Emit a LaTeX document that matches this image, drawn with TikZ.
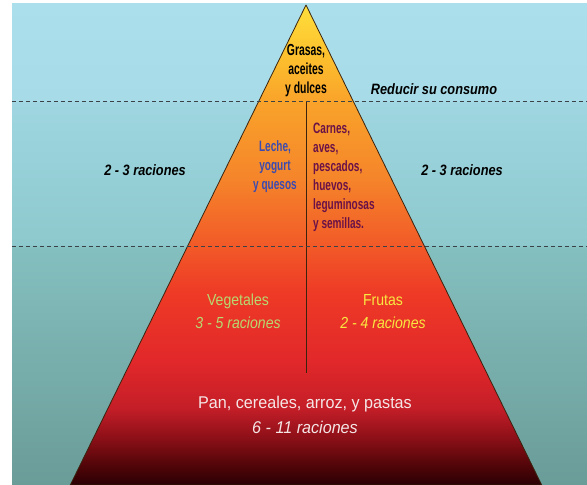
\documentclass[tikz,border=0pt]{standalone}
\usepackage{fontspec}
\setmainfont{Liberation Sans}
\newfontfamily\nA{Liberation Sans}[FakeStretch=0.65]
\newfontfamily\nB{Liberation Sans}[FakeStretch=0.67]
\newfontfamily\nC{Liberation Sans}[FakeStretch=0.88]
\newfontfamily\nE{Liberation Sans}[FakeStretch=0.85]
\newfontfamily\nD{Liberation Sans}[FakeStretch=0.95]
\definecolor{p1}{HTML}{2A0003}
\definecolor{p2}{HTML}{500508}
\definecolor{p3}{HTML}{8E1018}
\definecolor{p4}{HTML}{C41E28}
\definecolor{p5}{HTML}{E2282A}
\definecolor{p6}{HTML}{EE3A26}
\definecolor{p7}{HTML}{F25A28}
\definecolor{p8}{HTML}{F5852A}
\definecolor{p9}{HTML}{F9A32A}
\definecolor{p10}{HTML}{FDC22E}
\definecolor{p11}{HTML}{FFDF3C}
\definecolor{b1}{HTML}{6A9C98}
\definecolor{b2}{HTML}{84BFBF}
\definecolor{b3}{HTML}{8DC9CD}
\definecolor{b4}{HTML}{9FD6E1}
\definecolor{b5}{HTML}{A6DBE7}
\definecolor{b6}{HTML}{ABDFEB}
\definecolor{leche}{HTML}{3C4BB0}
\definecolor{carne}{HTML}{6A1248}
\definecolor{vege}{HTML}{B8D870}
\definecolor{fruta}{HTML}{F8E840}
\definecolor{pan}{HTML}{F5E6E6}
\definecolor{dash}{HTML}{3A4248}
\definecolor{edge}{HTML}{3A2410}
\pgfdeclareverticalshading{pyrshade}{100bp}{color(0bp)=(p1); color(25bp)=(p1); color(27bp)=(p2); color(30bp)=(p3); color(33bp)=(p4); color(38bp)=(p5); color(45bp)=(p6); color(50bp)=(p7); color(57bp)=(p8); color(65bp)=(p9); color(70bp)=(p10); color(75bp)=(p11); color(100bp)=(p11)}
\pgfdeclareverticalshading{bgshade}{100bp}{color(0bp)=(b1); color(25bp)=(b1); color(49.6bp)=(b2); color(50.05bp)=(b3); color(64.7bp)=(b4); color(65bp)=(b5); color(75bp)=(b6); color(100bp)=(b6)}
\tikzset{
  dashline/.style={draw=dash, line width=0.9pt, dash pattern=on 4pt off 3pt},
  narrowbold/.style={font={\nA\bfseries\fontsize{16}{19}\selectfont}, text=black, align=center, inner sep=0pt},
  narrowtxt/.style={font={\nB\bfseries\fontsize{15}{19}\selectfont}, inner sep=0pt},
  midtxt/.style={font={\nC\fontsize{16}{23}\selectfont}, align=center, inner sep=0pt},
  sidetxt/.style={font={\nE\bfseries\itshape\fontsize{15}{18}\selectfont}, text=black, inner sep=0pt},
  pantxt/.style={font={\nD\fontsize{17}{25}\selectfont}, text=pan, align=center, inner sep=0pt}
}
\begin{document}
\begin{tikzpicture}[x=1pt,y=1pt]
\useasboundingbox (0,0) rectangle (587,485);
\fill[white] (0,0) rectangle (587,485);
\shade[shading=bgshade] (12,0) rectangle (587,481);
% pyramid
\coordinate (apex) at (306,480);
\coordinate (bl) at (70.3,0);
\coordinate (br) at (541.7,0);
\shade[shading=pyrshade] (apex) -- (br) -- (bl) -- cycle;
\draw[edge, line width=0.8pt, line join=round] (apex) -- (br) -- (bl) -- cycle;
% centre divider
\coordinate (vtop) at (306,384);
\coordinate (vbot) at (306,112);
\draw[edge, line width=0.8pt] (vtop) -- (vbot);
% dashed separators
\coordinate (d1l) at (12,384);
\coordinate (d1r) at (587,384);
\coordinate (d2l) at (12,239);
\coordinate (d2r) at (587,239);
\draw[dashline] (d1l) -- (d1r);
\draw[dashline] (d2l) -- (d2r);
% texts
\node[narrowbold] (grasas) at (306,414) {Grasas,\\aceites\\y dulces};
\node[sidetxt] (reducir) at (434,396) {Reducir su consumo};
\node[sidetxt] (lraciones) at (145,315) {2 - 3 raciones};
\node[sidetxt] (rraciones) at (462,315) {2 - 3 raciones};
\node[narrowtxt, text=leche, align=center] (leche) at (275,318) {Leche,\\yogurt\\y quesos};
\node[narrowtxt, text=carne, align=left, anchor=west] (carnes) at (313,307.5) {Carnes,\\aves,\\pescados,\\huevos,\\leguminosas\\y semillas.};
\node[midtxt, text=vege] (vegetales) at (238,173.5) {Vegetales\\\itshape 3 - 5 raciones};
\node[midtxt, text=fruta] (frutas) at (383,173.5) {Frutas\\\itshape 2 - 4 raciones};
\node[pantxt] (pan) at (305,70.5) {Pan, cereales, arroz, y pastas\\\itshape 6 - 11 raciones};
\end{tikzpicture}
\end{document}
